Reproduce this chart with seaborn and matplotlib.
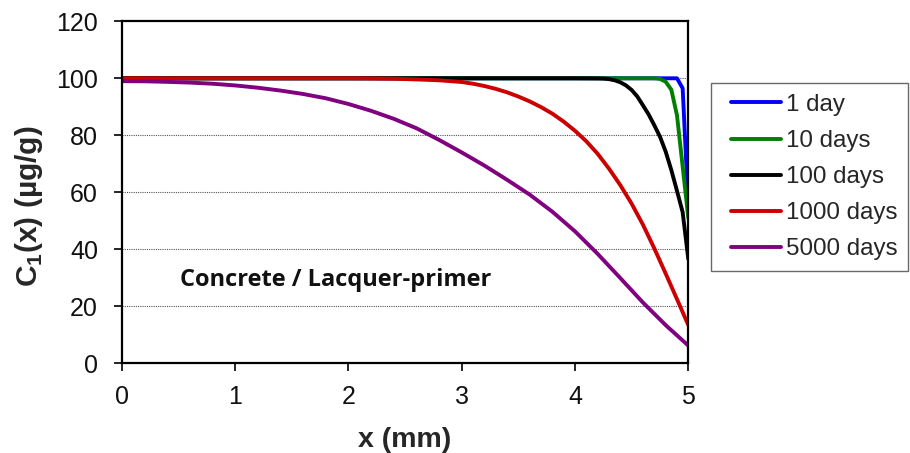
import numpy as np
import pandas as pd
import matplotlib
matplotlib.use("Agg")
import matplotlib.pyplot as plt
import seaborn as sns

# Concentration profiles C1(x) across the 5 mm layer for each exposure time
x_1d = [0.0, 1.0, 2.0, 3.0, 4.0, 4.5, 4.8, 4.9, 4.95, 5.0]
c_1d = [100.0, 100.0, 100.0, 100.0, 100.0, 100.0, 100.0, 100.0, 96.5, 55.0]

x_10d = [0.0, 1.0, 2.0, 3.0, 4.0, 4.5, 4.7, 4.75, 4.8, 4.85, 4.9, 4.95, 5.0]
c_10d = [100.0, 100.0, 100.0, 100.0, 100.0, 100.0, 100.0, 99.8, 98.8, 96.0, 87.0, 69.0, 51.0]

x_100d = [0.0, 1.0, 2.0, 3.0, 4.0, 4.2, 4.25, 4.3, 4.35, 4.4, 4.45, 4.5, 4.55,
          4.6, 4.65, 4.7, 4.75, 4.8, 4.85, 4.9, 4.95, 5.0]
c_100d = [100.0, 100.0, 100.0, 100.0, 100.0, 99.95, 99.9, 99.7, 99.3, 98.6, 97.5, 95.9, 93.6,
          90.5, 87.3, 83.5, 79.5, 74.3, 67.8, 60.5, 53.0, 36.5]

x_1000d = [0.0, 1.0, 2.0, 2.2, 2.4, 2.6, 2.8, 3.0, 3.1, 3.2, 3.3, 3.4, 3.5, 3.6, 3.7,
           3.8, 3.9, 4.0, 4.1, 4.2, 4.3, 4.4, 4.5, 4.6, 4.7, 4.8, 4.9, 5.0]
c_1000d = [100.0, 100.0, 100.0, 99.95, 99.85, 99.6, 99.3, 98.7, 98.1, 97.3, 96.3, 95.1, 93.6,
           91.9, 89.9, 87.6, 84.8, 81.6, 77.9, 73.5, 68.3, 62.5, 56.0, 48.6, 40.3, 31.5, 22.5, 13.4]

x_5000d = [0.0, 0.2, 0.4, 0.6, 0.8, 1.0, 1.2, 1.4, 1.6, 1.8, 2.0, 2.2, 2.4,
           2.6, 2.8, 3.0, 3.2, 3.4, 3.6, 3.8, 4.0, 4.2, 4.4, 4.6, 4.8, 5.0]
c_5000d = [99.0, 98.95, 98.75, 98.5, 98.1, 97.5, 96.7, 95.7, 94.5, 93.0, 91.0, 88.6, 85.8,
           82.5, 78.4, 74.0, 69.4, 64.4, 59.2, 53.2, 46.3, 38.4, 29.9, 21.3, 13.4, 6.2]

series_names = ["1 day", "10 days", "100 days", "1000 days", "5000 days"]
series_colors = ["#0000FF", "#008000", "#000000", "#CC0000", "#800080"]

x_ticks = [0, 1, 2, 3, 4, 5]
y_ticks = [0, 20, 40, 60, 80, 100, 120]

frames = []
for name, xs, cs in zip(series_names,
                        [x_1d, x_10d, x_100d, x_1000d, x_5000d],
                        [c_1d, c_10d, c_100d, c_1000d, c_5000d]):
    frames.append(pd.DataFrame({"x": xs, "C": cs, "series": name}))
df = pd.concat(frames, ignore_index=True)

sns.set_theme(style="white")
plt.rcParams["font.family"] = ["Liberation Sans", "DejaVu Sans"]
plt.rcParams["mathtext.fontset"] = "custom"
plt.rcParams["mathtext.rm"] = "Liberation Sans:bold"
plt.rcParams["mathtext.bf"] = "Liberation Sans:bold"

fig = plt.figure(figsize=(9.10, 4.53), dpi=100)
ax = fig.add_axes([0.1337, 0.198, 0.6227, 0.755])

sns.lineplot(data=df, x="x", y="C", hue="series", hue_order=series_names,
             palette=dict(zip(series_names, series_colors)),
             estimator=None, sort=True, linewidth=2.8, ax=ax, legend=False)
for ln in ax.get_lines():
    ln.set_solid_joinstyle("round")

ax.set_xlim(0, 5)
ax.set_ylim(0, 120)
ax.set_xticks(x_ticks)
ax.set_yticks(y_ticks)
ax.tick_params(axis="both", which="major", direction="out", length=5.5, width=1.2,
               color="black", labelsize=18, labelcolor="#111111",
               bottom=True, left=True)
ax.tick_params(axis="x", pad=10)
ax.tick_params(axis="y", pad=11.5)
for s in ax.spines.values():
    s.set_color("black")
    s.set_linewidth(1.6)

# dotted horizontal grid
for yv in y_ticks[1:-1]:
    ax.axhline(yv, color="#555555", linewidth=0.8, linestyle=(0, (1, 1)), zorder=0)

ax.set_xlabel("x (mm)", fontsize=20.5, fontweight="bold", labelpad=13)
ax.set_ylabel(r"C$_{\mathregular{1}}$(x) (µg/g)", fontsize=21.5, fontweight="bold", labelpad=8)
ax.yaxis.label.set_y(0.458)

ax.text(0.515, 27.1, "Concrete / Lacquer-primer", fontsize=17, fontweight="bold",
        family=["Open Sans", "DejaVu Sans"], va="baseline", ha="left", color="#111111")

handles = [plt.Line2D([], [], color=c, linewidth=2.8) for c in series_colors]
leg = fig.legend(handles, series_names, loc="upper left",
                 bbox_to_anchor=(711 / 910, 1 - 83 / 453), frameon=True,
                 fancybox=False, fontsize=17.4, handlelength=2.45, handletextpad=0.2,
                 labelspacing=0.585, borderpad=0.45, borderaxespad=0)
leg.get_frame().set_edgecolor("#444444")
leg.get_frame().set_linewidth(1.0)
# leave a wider gap before the legend keys
for ln in leg.get_lines():
    xd = np.asarray(ln.get_xdata(), dtype=float)
    if xd.size >= 2:
        start = xd[0] + (xd[-1] - xd[0]) * 0.16
        ln.set_xdata(np.linspace(start, xd[-1], xd.size))

fig.savefig("out.png", dpi=100, facecolor="white")
